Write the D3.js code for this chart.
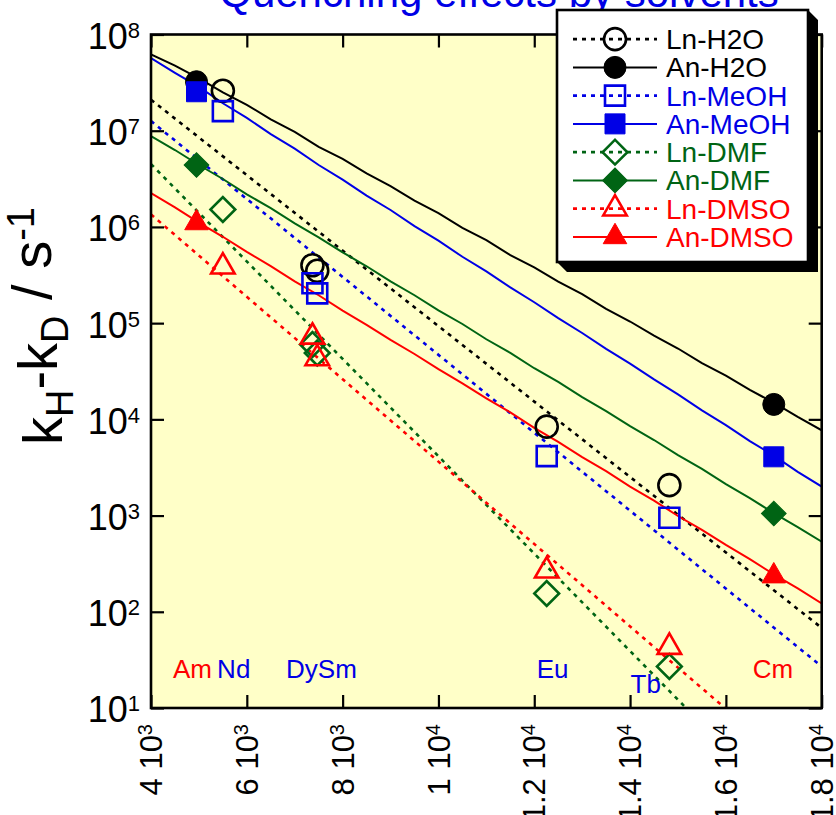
<!DOCTYPE html>
<html>
<head>
<meta charset="utf-8">
<script src="https://cdn.jsdelivr.net/npm/d3@7"></script>
<style>
  body { margin: 0; background: #fff; }
  svg { display: block; font-family: "Liberation Sans", Arial, Helvetica, sans-serif; }
</style>
</head>
<body>
<svg id="chart" width="836" height="815"></svg>
<script>
// ---- data -------------------------------------------------------------
// energy gaps (cm-1) of the measured ions
const anGap = [4950, 17000];                       // Am, Cm
const lnGap = [5500, 7370, 7470, 12260, 14820];    // Nd, Dy, Sm, Eu, Tb

// measured kH - kD (s-1)
const anH2O  = [3.23e7, 1.43e4];
const anMeOH = [2.54e7, 4.08e3];
const anDMF  = [4.4e6, 1.05e3];
const anDMSO = [1.1e6, 2.35e2];

const lnH2O  = [2.6e7, 4.0e5, 3.5e5, 8.4e3, 2.07e3];
const lnMeOH = [1.6e7, 2.6e5, 2.04e5, 4.15e3, 9.5e2];
const lnDMF  = [1.52e6, 6.0e4, 4.9e4, 1.55e2, 2.7e1];
const lnDMSO = [3.86e5, 7.2e4, 4.3e4, 2.67e2, 4.3e1];

// calculated curves for the actinides
const curveGap = [4000, 4500, 5000, 5500, 6000, 6500, 7000, 7500, 8000, 8500,
                  9000, 9500, 10000, 10500, 11000, 11500, 12000, 12500, 13000, 13500,
                  14000, 14500, 15000, 15500, 16000, 16500, 17000, 17500, 18000];
const anH2OCurve  = [6.2e7, 4.75e7, 3.5e7, 2.5e7, 1.86e7, 1.31e7, 9.7e6, 6.8e6, 5.1e6, 3.6e6,
                     2.66e6, 1.88e6, 1.39e6, 9.8e5, 7.3e5, 5.1e5, 3.8e5, 2.7e5, 2.0e5, 1.41e5,
                     1.04e5, 7.4e4, 5.45e4, 3.85e4, 2.85e4, 2.02e4, 1.49e4, 1.06e4, 7.7e3];
const anMeOHCurve = [5.7e7, 4.0e7, 2.85e7, 1.93e7, 1.36e7, 9.2e6, 6.5e6, 4.4e6, 3.1e6, 2.12e6,
                     1.5e6, 1.02e6, 7.2e5, 4.9e5, 3.45e5, 2.35e5, 1.65e5, 1.13e5, 7.9e4, 5.4e4,
                     3.8e4, 2.6e4, 1.82e4, 1.24e4, 8.7e3, 5.95e3, 4.2e3, 2.85e3, 2.0e3];
const anDMFCurve  = [8.8e6, 6.3e6, 4.4e6, 3.15e6, 2.18e6, 1.57e6, 1.09e6, 7.8e5, 5.45e5, 3.9e5,
                     2.72e5, 1.95e5, 1.36e5, 9.8e4, 6.8e4, 4.9e4, 3.4e4, 2.45e4, 1.7e4, 1.22e4,
                     8.5e3, 6.1e3, 4.25e3, 3.05e3, 2.12e3, 1.52e3, 1.06e3, 7.6e2, 5.35e2];
const anDMSOCurve = [2.25e6, 1.6e6, 1.11e6, 7.9e5, 5.5e5, 3.92e5, 2.72e5, 1.95e5, 1.35e5, 9.6e4,
                     6.7e4, 4.78e4, 3.32e4, 2.37e4, 1.65e4, 1.18e4, 8.15e3, 5.82e3, 4.05e3, 2.89e3,
                     2.0e3, 1.43e3, 9.9e2, 7.1e2, 4.95e2, 3.52e2, 2.45e2, 1.75e2, 1.22e2];

// energy-gap-law fits for the lanthanides (end points)
const fitGapH2O  = [4000, 18000], fitH2O  = [2.1e7, 68];
const fitGapMeOH = [4000, 18000], fitMeOH = [1.26e7, 27];
const fitGapDMF  = [4000, 15170], fitDMF  = [4.5e6, 10];
const fitGapDMSO = [4000, 15980], fitDMSO = [1.35e6, 10];

// ion labels: left edge (cm-1) and baseline level (s-1)
const ionNames = ["Am", "Nd", "DySm", "Eu", "Tb", "Cm"];
const ionLabelGap = [4460, 5380, 6820, 12050, 14010, 16560];
const ionLabelLevel = [20.5, 20.5, 20.5, 20.5, 14.3, 20.5];
const actinides = ["Am", "Cm"];

const xTicks = [4000, 6000, 8000, 10000, 12000, 14000, 16000, 18000];
const yTicks = [1e1, 1e2, 1e3, 1e4, 1e5, 1e6, 1e7, 1e8];

const legendOrder = ["Ln-H2O", "An-H2O", "Ln-MeOH", "An-MeOH", "Ln-DMF", "An-DMF", "Ln-DMSO", "An-DMSO"];

// ---- styling -----------------------------------------------------------
const colorOf = { H2O: "#000000", MeOH: "#0000e6", DMF: "#006414", DMSO: "#ff0000" };
const BLUE = "#0000e6", RED = "#ff0000";

function markerPath(solvent) {
  if (solvent === "H2O")  return d3.symbol().type(d3.symbolCircle).size(Math.PI * 11 * 11)();
  if (solvent === "MeOH") return d3.symbol().type(d3.symbolSquare).size(20 * 20)();
  if (solvent === "DMF")  return d3.symbol().type(d3.symbolSquare).size(17.5 * 17.5)();
  return d3.symbol().type(d3.symbolTriangle).size(3 * Math.sqrt(3) * 6.8 * 6.8)();
}
const markerRotate = s => (s === "DMF" ? 45 : 0);

// ---- series table -------------------------------------------------------
const series = [
  { name: "Ln-H2O",  solvent: "H2O",  an: false, gaps: lnGap, vals: lnH2O,  fitX: fitGapH2O,  fitY: fitH2O },
  { name: "An-H2O",  solvent: "H2O",  an: true,  gaps: anGap, vals: anH2O,  curve: anH2OCurve },
  { name: "Ln-MeOH", solvent: "MeOH", an: false, gaps: lnGap, vals: lnMeOH, fitX: fitGapMeOH, fitY: fitMeOH },
  { name: "An-MeOH", solvent: "MeOH", an: true,  gaps: anGap, vals: anMeOH, curve: anMeOHCurve },
  { name: "Ln-DMF",  solvent: "DMF",  an: false, gaps: lnGap, vals: lnDMF,  fitX: fitGapDMF,  fitY: fitDMF },
  { name: "An-DMF",  solvent: "DMF",  an: true,  gaps: anGap, vals: anDMF,  curve: anDMFCurve },
  { name: "Ln-DMSO", solvent: "DMSO", an: false, gaps: lnGap, vals: lnDMSO, fitX: fitGapDMSO, fitY: fitDMSO },
  { name: "An-DMSO", solvent: "DMSO", an: true,  gaps: anGap, vals: anDMSO, curve: anDMSOCurve }
];

// ---- scales --------------------------------------------------------------
const plot = { left: 151, top: 34.5, right: 821.7, bottom: 708 };
const x = d3.scaleLinear().domain([4000, 18000]).range([plot.left, plot.right]);
const y = d3.scaleLog().domain([1e1, 1e8]).range([plot.bottom, plot.top]);

const svg = d3.select("#chart");

svg.append("defs").append("clipPath").attr("id", "plotClip")
  .append("rect")
  .attr("x", plot.left).attr("y", plot.top)
  .attr("width", plot.right - plot.left).attr("height", plot.bottom - plot.top);

// title
svg.append("text")
  .attr("x", 499).attr("y", 7)
  .attr("text-anchor", "middle")
  .style("font-size", "42px").style("fill", BLUE)
  .text("Quenching effects by solvents");

// plot background
svg.append("rect")
  .attr("x", plot.left).attr("y", plot.top)
  .attr("width", plot.right - plot.left).attr("height", plot.bottom - plot.top)
  .attr("fill", "#ffffc8");

const gData = svg.append("g").attr("clip-path", "url(#plotClip)");
const line = d3.line().x(d => x(d[0])).y(d => y(d[1]));

// lines: dotted fits for Ln, calculated curves for An
series.forEach(s => {
  const pts = s.an ? d3.zip(curveGap, s.curve) : d3.zip(s.fitX, s.fitY);
  gData.append("path")
    .attr("d", line(pts))
    .attr("fill", "none")
    .attr("stroke", colorOf[s.solvent])
    .attr("stroke-width", s.an ? 2 : 2.6)
    .attr("stroke-dasharray", s.an ? null : "4,5");
});

// ion labels
ionNames.forEach((n, i) => {
  gData.append("text")
    .attr("x", x(ionLabelGap[i])).attr("y", y(ionLabelLevel[i]))
    .style("font-size", "26px")
    .style("fill", actinides.includes(n) ? RED : BLUE)
    .text(n);
});

// markers
series.forEach(s => {
  const c = colorOf[s.solvent];
  gData.selectAll(null)
    .data(d3.zip(s.gaps, s.vals))
    .join("path")
    .attr("transform", d => `translate(${x(d[0])},${y(d[1])}) rotate(${markerRotate(s.solvent)})`)
    .attr("d", markerPath(s.solvent))
    .attr("fill", s.an ? c : "none")
    .attr("stroke", c)
    .attr("stroke-width", s.an ? 1 : 2.6);
});

// ticks on all four sides, pointing inward
const tickStyle = g => {
  g.select(".domain").remove();
  g.selectAll(".tick line").attr("stroke", "#000").attr("stroke-width", 2.2);
  g.selectAll(".tick text").remove();
};
svg.append("g").attr("transform", `translate(0,${plot.bottom})`)
  .call(d3.axisBottom(x).tickValues(xTicks).tickSize(-13)).call(tickStyle);
svg.append("g").attr("transform", `translate(0,${plot.top})`)
  .call(d3.axisTop(x).tickValues(xTicks).tickSize(-13)).call(tickStyle);
svg.append("g").attr("transform", `translate(${plot.left},0)`)
  .call(d3.axisLeft(y).tickValues(yTicks).tickSize(-13)).call(tickStyle);
svg.append("g").attr("transform", `translate(${plot.right},0)`)
  .call(d3.axisRight(y).tickValues(yTicks).tickSize(-13)).call(tickStyle);

// frame
svg.append("rect")
  .attr("x", plot.left).attr("y", plot.top)
  .attr("width", plot.right - plot.left).attr("height", plot.bottom - plot.top)
  .attr("fill", "none").attr("stroke", "#000").attr("stroke-width", 2.6);

// y tick labels: 10 with exponent
yTicks.forEach(v => {
  const e = Math.round(Math.log10(v));
  const t = svg.append("text")
    .attr("x", plot.left - 11).attr("y", y(v)).attr("dy", "0.4em")
    .attr("text-anchor", "end")
    .style("font-size", "36px");
  t.append("tspan").text("10");
  t.append("tspan").attr("dy", "-0.5em").style("font-size", "22px").text(e);
});

// x tick labels, rotated: mantissa 10 with exponent
xTicks.forEach(v => {
  const e = Math.floor(Math.log10(v));
  const m = +(v / Math.pow(10, e)).toFixed(2);
  const t = svg.append("text")
    .attr("transform", `translate(${x(v)},${plot.bottom + 16}) rotate(-90)`)
    .attr("text-anchor", "end").attr("dy", "0.36em")
    .style("font-size", "31px");
  t.append("tspan").text(`${m} 10`);
  t.append("tspan").attr("dy", "-0.5em").style("font-size", "20px").text(e);
});

// y axis title
const yt = svg.append("text")
  .attr("transform", "translate(62,326) rotate(-90)")
  .attr("text-anchor", "middle")
  .style("font-size", "56px");
yt.append("tspan").text("k");
yt.append("tspan").attr("dy", "0.3em").style("font-size", "38px").text("H");
yt.append("tspan").attr("dy", "-0.3em").text("-k");
yt.append("tspan").attr("dy", "0.3em").style("font-size", "38px").text("D");
yt.append("tspan").attr("dy", "-0.3em").text(" / s");
yt.append("tspan").attr("dy", "-0.45em").style("font-size", "38px").text("-1");

// legend
const lg = { x0: 557, y0: 10, x1: 808, y1: 262, d: 10 };
svg.append("polygon")
  .attr("points", [
    [lg.x1, lg.y0], [lg.x1 + lg.d, lg.y0 + lg.d], [lg.x1 + lg.d, lg.y1 + lg.d],
    [lg.x0 + lg.d, lg.y1 + lg.d], [lg.x0, lg.y1], [lg.x1, lg.y1]
  ].map(p => p.join(",")).join(" "))
  .attr("fill", "#000");
svg.append("rect")
  .attr("x", lg.x0).attr("y", lg.y0)
  .attr("width", lg.x1 - lg.x0).attr("height", lg.y1 - lg.y0)
  .attr("fill", "#fff").attr("stroke", "#000").attr("stroke-width", 2.6);

const legendRow = d3.scaleBand().domain(legendOrder).range([25, 251]);
legendOrder.forEach(name => {
  const s = series.find(d => d.name === name);
  const c = colorOf[s.solvent];
  const cy = legendRow(name) + legendRow.bandwidth() / 2;
  const g = svg.append("g").attr("transform", `translate(0,${cy})`);
  g.append("line")
    .attr("x1", 573).attr("x2", 657).attr("y1", 0).attr("y2", 0)
    .attr("stroke", c).attr("stroke-width", s.an ? 2 : 2.6)
    .attr("stroke-dasharray", s.an ? null : "4,5");
  g.append("path")
    .attr("transform", `translate(615,0) rotate(${markerRotate(s.solvent)})`)
    .attr("d", markerPath(s.solvent))
    .attr("fill", s.an ? c : "none")
    .attr("stroke", c).attr("stroke-width", s.an ? 1 : 2.6);
  g.append("text")
    .attr("x", 666).attr("dy", "0.36em")
    .style("font-size", "28px").style("fill", c)
    .text(name);
});
</script>
</body>
</html>
